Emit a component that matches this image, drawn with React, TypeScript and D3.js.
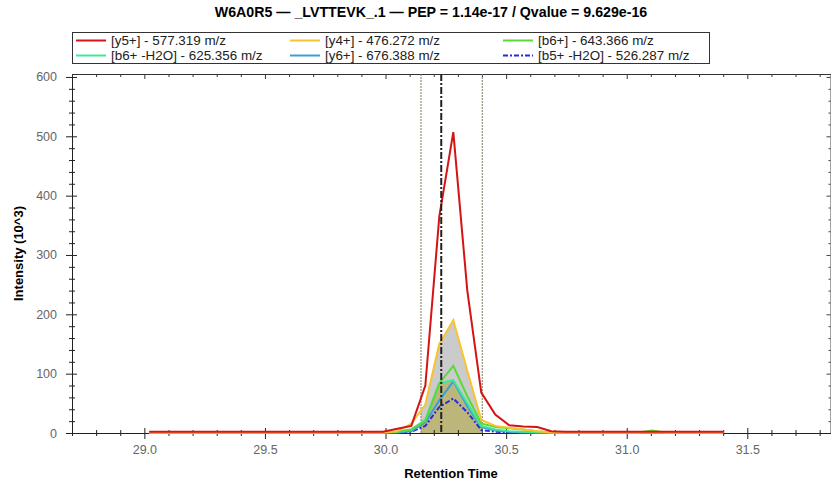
import React, { useEffect, useRef } from 'react';
import * as d3 from 'd3';

// retention times (min) shared by all transitions
const times = [29.02, 29.5, 29.99, 30.049, 30.107, 30.165, 30.223, 30.281, 30.339, 30.397, 30.455, 30.513, 30.571, 30.629, 30.687, 30.745, 31.05, 31.105, 31.16, 31.4];

// intensities (10^3)
const y5 = [2, 2, 2, 7, 12, 80, 365, 507, 240, 68, 31, 13, 11, 10, 3, 2, 2, 2, 2, 2];
const y4 = [1, 1, 1, 3, 16, 48, 150, 190, 105, 22, 12, 9, 6, 3, 1, 1, 1, 1, 1, 1];
const b6 = [1, 1, 1, 2, 6, 20, 84, 113, 62, 16, 10, 8, 6, 3, 1, 1, 1, 4, 1, 1];
const b6h2o = [1, 1, 1, 2, 6, 22, 84, 89, 50, 12, 6, 3, 2, 1, 1, 1, 1, 1, 1, 1];
const y6 = [1, 1, 1, 1, 3, 18, 55, 87, 45, 10, 4, 2, 1, 1, 1, 1, 1, 1, 1, 1];
const b5h2o = [1, 1, 1, 1, 2, 12, 44, 58, 35, 5, 2, 1, 1, 1, 1, 1, 1, 1, 1, 1];

const seriesNames = ['[y5+] - 577.319 m/z', '[y4+] - 476.272 m/z', '[b6+] - 643.366 m/z', '[b6+ -H2O] - 625.356 m/z', '[y6+] - 676.388 m/z', '[b5+ -H2O] - 526.287 m/z'];
const seriesValues = [y5, y4, b6, b6h2o, y6, b5h2o];
const seriesColors = ['#d41414', '#f8c232', '#5cd83a', '#3ee896', '#3c9ed8', '#2a2ad6'];

// peak boundaries and ID retention time
const peakStart = 30.147;
const peakEnd = 30.401;
const idTime = 30.231;

const title = 'W6A0R5 — _LVTTEVK_.1 — PEP = 1.14e-17 / Qvalue = 9.629e-16';
const font = "'Liberation Sans', Arial, sans-serif";

export default function App() {
  const ref = useRef<SVGSVGElement>(null);

  useEffect(() => {
    const svg = d3.select(ref.current);
    svg.selectAll('*').remove();

    const left = 72;
    const right = 831;
    const top = 74;
    const bottom = 433;

    const x = d3.scaleLinear().domain([28.7, 31.847]).range([left, right]);
    const y = d3.scaleLinear().domain([0, 605]).range([bottom, top]);

    // title
    svg.append('text')
      .attr('x', 431).attr('y', 17)
      .attr('text-anchor', 'middle')
      .style('font-family', font).style('font-weight', 'bold').style('font-size', '14.2px')
      .text(title);

    // legend
    const legendG = svg.append('g');
    legendG.append('rect')
      .attr('x', 72.5).attr('y', 32.5).attr('width', 637).attr('height', 31)
      .attr('fill', 'white').attr('stroke', '#333');
    const colX = [76, 290, 503];
    const rowY = [40.5, 55.5];
    seriesNames.forEach((name, i) => {
      const cx = colX[i % 3];
      const cy = rowY[Math.floor(i / 3)];
      legendG.append('line')
        .attr('x1', cx).attr('x2', cx + 30).attr('y1', cy).attr('y2', cy)
        .attr('stroke', seriesColors[i]).attr('stroke-width', 2)
        .attr('stroke-dasharray', i === 5 ? '5,2,2,2' : null);
      legendG.append('text')
        .attr('x', cx + 35).attr('y', cy + 4.5)
        .style('font-family', font).style('font-size', '13.4px').attr('fill', '#222')
        .text(name);
    });

    // fills inside the peak boundaries
    svg.append('clipPath').attr('id', 'peakClip')
      .append('rect')
      .attr('x', x(peakStart)).attr('y', top)
      .attr('width', x(peakEnd) - x(peakStart)).attr('height', bottom - top);
    const area = d3.area<number>()
      .x((d, i) => x(times[i]))
      .y0(y(0))
      .y1((d) => y(d));
    svg.append('path').datum(y4).attr('d', area)
      .attr('fill', '#cbcbcb').attr('clip-path', 'url(#peakClip)');
    svg.append('path').datum(b6h2o).attr('d', area)
      .attr('fill', '#bcb67a').attr('clip-path', 'url(#peakClip)');

    // y axis
    const axisY = d3.axisLeft(y)
      .tickValues(d3.range(0, 601, 20))
      .tickFormat((d) => (+d % 100 === 0 ? String(d) : ''))
      .tickSizeOuter(0);
    const axisYG = svg.append('g').attr('transform', `translate(${left},0)`).call(axisY);
    axisYG.select('.domain').attr('stroke', '#222');
    axisYG.selectAll('g.tick line')
      .attr('x1', (d: any) => (d % 100 === 0 ? -6 : -3))
      .attr('x2', (d: any) => (d % 100 === 0 ? 5 : 3))
      .attr('stroke', '#222');
    axisYG.selectAll('g.tick text')
      .attr('x', -15)
      .attr('fill', '#666').style('font-family', font).style('font-size', '12.5px');

    // right axis ticks (edge of picture)
    const axisR = d3.axisRight(y).tickValues(d3.range(0, 601, 20)).tickFormat(() => '').tickSizeOuter(0);
    const axisRG = svg.append('g').attr('transform', `translate(${right - 0.5},0)`).call(axisR);
    axisRG.select('.domain').attr('stroke', '#444');
    axisRG.selectAll('g.tick line')
      .attr('x1', (d: any) => (d % 100 === 0 ? -4 : -2))
      .attr('x2', 0).attr('stroke', '#444');

    // x axis
    const xTicks = d3.range(287, 319).map((v) => v / 10);
    const isMajor = (d: number) => Math.abs(Math.round(d * 10) % 5) === 0;
    const axisX = d3.axisBottom(x)
      .tickValues(xTicks)
      .tickFormat((d) => (isMajor(+d) ? d3.format('.1f')(+d) : ''))
      .tickSizeOuter(0);
    const axisXG = svg.append('g').attr('transform', `translate(0,${bottom})`).call(axisX);
    axisXG.select('.domain').attr('stroke', '#222');
    axisXG.selectAll('g.tick line')
      .attr('y1', (d: any) => (isMajor(d) ? -5 : -3))
      .attr('y2', (d: any) => (isMajor(d) ? 6 : 3))
      .attr('stroke', '#222');
    axisXG.selectAll('g.tick text')
      .attr('y', 12)
      .attr('fill', '#666').style('font-family', font).style('font-size', '12.5px');

    // top axis
    const axisT = d3.axisTop(x).tickValues(xTicks).tickFormat(() => '').tickSizeOuter(0);
    const axisTG = svg.append('g').attr('transform', `translate(0,${top})`).call(axisT);
    axisTG.select('.domain').attr('stroke', '#333');
    axisTG.selectAll('g.tick line')
      .attr('y1', 0)
      .attr('y2', (d: any) => (isMajor(d) ? 5 : 3))
      .attr('stroke', '#333');

    // axis titles
    svg.append('text')
      .attr('x', 451).attr('y', 478)
      .attr('text-anchor', 'middle')
      .style('font-family', font).style('font-weight', 'bold').style('font-size', '13px')
      .text('Retention Time');
    svg.append('text')
      .attr('transform', `translate(23,${(top + bottom) / 2}) rotate(-90)`)
      .attr('text-anchor', 'middle')
      .style('font-family', font).style('font-weight', 'bold').style('font-size', '13px')
      .text('Intensity (10^3)');

    // boundaries
    [peakStart, peakEnd].forEach((t) => {
      svg.append('line')
        .attr('x1', x(t)).attr('x2', x(t)).attr('y1', top).attr('y2', bottom)
        .attr('stroke', '#7d7d55').attr('stroke-width', 1).attr('stroke-dasharray', '2,1');
    });

    // transitions, red drawn last
    const line = d3.line<number>()
      .x((d, i) => x(times[i]))
      .y((d) => y(d));
    for (let i = seriesValues.length - 1; i >= 0; i--) {
      svg.append('path')
        .datum(seriesValues[i])
        .attr('d', line)
        .attr('fill', 'none')
        .attr('stroke', seriesColors[i])
        .attr('stroke-width', 2)
        .attr('stroke-dasharray', i === 5 ? '5,2,2,2' : null);
    }

    // identified retention time
    svg.append('line')
      .attr('x1', x(idTime)).attr('x2', x(idTime)).attr('y1', top).attr('y2', bottom)
      .attr('stroke', '#222').attr('stroke-width', 2).attr('stroke-dasharray', '7,2,2,2');
  }, []);

  return <svg ref={ref} width={831} height={485} style={{ position: 'absolute', left: 0, top: 0 }} />;
}
